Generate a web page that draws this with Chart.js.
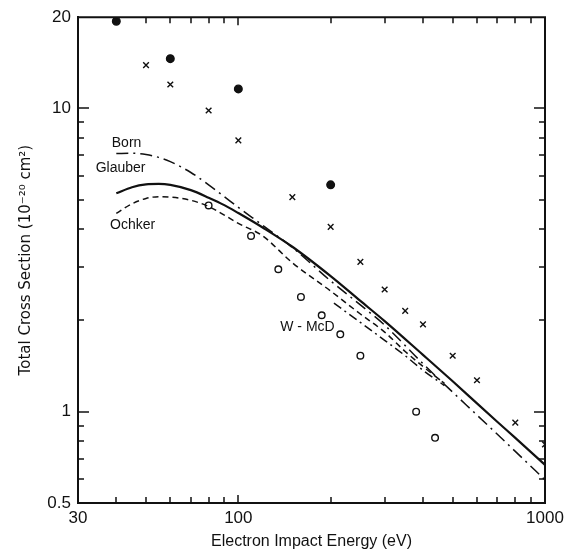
<!DOCTYPE html>
<html>
<head>
<meta charset="utf-8">
<script src="https://cdn.jsdelivr.net/npm/chart.js@4.4.1/dist/chart.umd.min.js"></script>
<style>
  body { margin: 0; background: #fff; }
  #wrap { width: 571px; height: 552px; position: relative; }
</style>
</head>
<body>
<div id="wrap"><canvas id="chart"></canvas></div>
<script>
// tick labels and tick marks
const xTickLabels = [30, 100, 1000];
const xMinorTicks = [40, 50, 60, 70, 80, 90, 200, 300, 400, 500, 600, 700, 800, 900];
const xMajorTicks = [100];
const yTickLabels = [0.5, 1, 10, 20];
const yMinorTicks = [0.6, 0.7, 0.8, 0.9, 2, 3, 4, 5, 6, 7, 8, 9];
const yMajorTicks = [1, 10];

// theory curves
const bornEnergy = [40, 45, 50, 55, 60, 70, 80, 90, 100, 120, 150, 200, 250, 300, 400, 500, 600, 800, 1000];
const bornValues = [7.1, 7.12, 7.05, 6.9, 6.68, 6.15, 5.6, 5.12, 4.72, 4.12, 3.48, 2.7, 2.25, 1.93, 1.44, 1.16, 0.975, 0.74, 0.596];

const glauberEnergy = [40, 45, 50, 55, 60, 70, 80, 90, 100, 120, 150, 200, 250, 300, 400, 500, 600, 700, 800, 1000];
const glauberValues = [5.25, 5.5, 5.62, 5.64, 5.6, 5.38, 5.08, 4.8, 4.52, 4.05, 3.5, 2.8, 2.32, 1.99, 1.54, 1.26, 1.065, 0.925, 0.82, 0.668];

const ochkerEnergy = [40, 45, 50, 55, 60, 70, 80, 90, 100, 120, 150, 200, 250, 300, 350, 400, 470];
const ochkerValues = [4.51, 4.85, 5.05, 5.12, 5.1, 4.98, 4.75, 4.45, 4.18, 3.8, 3.1, 2.5, 2.1, 1.83, 1.58, 1.41, 1.24];

const wmcdEnergy = [205, 250, 300, 350, 400, 470];
const wmcdValues = [2.28, 1.97, 1.72, 1.53, 1.37, 1.22];

// measurements
const dotEnergy = [40, 60, 100, 200];
const dotValues = [19.4, 14.6, 11.6, 5.6];

const crossEnergy = [50, 60, 80, 100, 150, 200, 250, 300, 350, 400, 500, 600, 800, 1000];
const crossValues = [13.9, 12.0, 9.85, 7.85, 5.1, 4.07, 3.12, 2.53, 2.15, 1.94, 1.53, 1.27, 0.92, 0.78];

const ringEnergy = [80, 110, 135, 160, 187, 215, 250, 380, 438];
const ringValues = [4.79, 3.80, 2.95, 2.39, 2.08, 1.80, 1.53, 1.0, 0.82];

// curve labels (energy, cross section)
const curveLabels = [
    { text: 'Born', x: 43.2, y: 7.69 },
    { text: 'Glauber', x: 41.3, y: 6.36 },
    { text: 'Ochker', x: 45.2, y: 4.12 },
    { text: 'W - McD', x: 168, y: 1.9 }
];

const ink = '#111';
const toPoints = (xs, ys) => xs.map((x, i) => ({ x: x, y: ys[i] }));

function curve(xs, ys, dash, width) {
    return {
        type: 'line',
        data: toPoints(xs, ys),
        borderColor: ink,
        borderWidth: width,
        borderDash: dash,
        pointRadius: 0,
        cubicInterpolationMode: 'monotone',
        fill: false
    };
}

function marks(xs, ys, style, radius, filled) {
    return {
        type: 'scatter',
        data: toPoints(xs, ys),
        pointStyle: style,
        pointRadius: radius,
        pointBorderColor: ink,
        pointBackgroundColor: filled ? ink : 'rgba(0,0,0,0)',
        pointBorderWidth: 1.4,
        clip: 0
    };
}

// frame, inward ticks and curve labels
const framePlugin = {
    id: 'frame',
    afterDraw(chart) {
        const ctx = chart.ctx;
        const a = chart.chartArea;
        const xs = chart.scales.x, ys = chart.scales.y;
        ctx.save();
        ctx.strokeStyle = ink;
        ctx.lineWidth = 2;
        ctx.beginPath();
        ctx.moveTo(a.left, a.top);
        ctx.lineTo(a.right, a.top);
        ctx.lineTo(a.right, a.bottom);
        ctx.stroke();

        ctx.lineWidth = 1.5;
        ctx.beginPath();
        xMinorTicks.concat(xMajorTicks).forEach(v => {
            const px = Math.round(xs.getPixelForValue(v));
            const len = xMajorTicks.includes(v) ? 8 : 6;
            ctx.moveTo(px, a.bottom); ctx.lineTo(px, a.bottom - len);
            ctx.moveTo(px, a.top); ctx.lineTo(px, a.top + len);
        });
        yMinorTicks.concat(yMajorTicks).forEach(v => {
            const py = Math.round(ys.getPixelForValue(v));
            const len = yMajorTicks.includes(v) ? 11 : 6;
            ctx.moveTo(a.left, py); ctx.lineTo(a.left + len, py);
            ctx.moveTo(a.right, py); ctx.lineTo(a.right - len, py);
        });
        ctx.stroke();

        ctx.fillStyle = ink;
        ctx.font = '14px "Liberation Sans", Arial, sans-serif';
        ctx.textAlign = 'center';
        ctx.textBaseline = 'middle';
        curveLabels.forEach(l => {
            ctx.fillText(l.text, xs.getPixelForValue(l.x), ys.getPixelForValue(l.y));
        });
        ctx.restore();
    }
};

new Chart(document.getElementById('chart'), {
    data: {
        datasets: [
            curve(bornEnergy, bornValues, [12, 5, 2, 5], 1.5),
            curve(glauberEnergy, glauberValues, [], 2.2),
            curve(ochkerEnergy, ochkerValues, [6, 4], 1.5),
            curve(wmcdEnergy, wmcdValues, [9, 4, 2, 4], 1.5),
            marks(dotEnergy, dotValues, 'circle', 3.8, true),
            marks(crossEnergy, crossValues, 'crossRot', 4, false),
            marks(ringEnergy, ringValues, 'circle', 3.3, false)
        ]
    },
    options: {
        responsive: true,
        maintainAspectRatio: false,
        animation: false,
        layout: { padding: { top: 17, right: 26, left: 0, bottom: 0 } },
        plugins: { legend: { display: false }, tooltip: { enabled: false } },
        scales: {
            x: {
                type: 'logarithmic',
                min: 30,
                max: 1000,
                afterBuildTicks: s => { s.ticks = xTickLabels.map(v => ({ value: v })); },
                afterFit: s => { s.height = 49; },
                grid: { display: false, drawTicks: false },
                border: { display: true, color: ink, width: 2 },
                ticks: {
                    autoSkip: false,
                    maxRotation: 0,
                    padding: 5,
                    color: ink,
                    font: { family: '"Liberation Sans", Arial, sans-serif', size: 17 },
                    callback: v => String(v)
                },
                title: {
                    display: true,
                    text: 'Electron Impact Energy (eV)',
                    color: ink,
                    font: { family: '"Liberation Sans", Arial, sans-serif', size: 16 },
                    padding: { top: 0, bottom: 1 }
                }
            },
            y: {
                type: 'logarithmic',
                min: 0.5,
                max: 20,
                afterBuildTicks: s => { s.ticks = yTickLabels.map(v => ({ value: v })); },
                afterFit: s => { s.width = 78; },
                grid: { display: false, drawTicks: false },
                border: { display: true, color: ink, width: 2 },
                ticks: {
                    autoSkip: false,
                    padding: 7,
                    color: ink,
                    font: { family: '"Liberation Sans", Arial, sans-serif', size: 17 },
                    callback: v => String(v)
                },
                title: {
                    display: true,
                    text: 'Total Cross Section (10⁻²⁰ cm²)',
                    color: ink,
                    font: { family: '"DejaVu Sans", sans-serif', size: 15 },
                    padding: { top: 17, bottom: 0 }
                }
            }
        }
    },
    plugins: [framePlugin]
});
</script>
</body>
</html>
